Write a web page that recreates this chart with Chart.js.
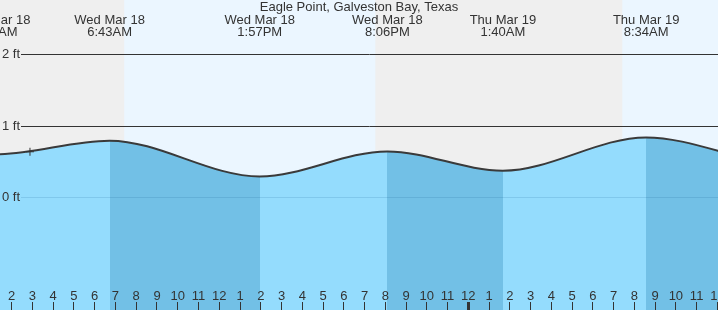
<!DOCTYPE html>
<html><head><meta charset="utf-8">
<script src="https://cdn.jsdelivr.net/npm/chart.js@4.4.1/dist/chart.umd.min.js"></script>
<style>html,body{margin:0;padding:0;background:#fff;overflow:hidden}#wrap{width:718px;height:310px;position:relative}canvas{display:block}</style>
</head><body><div id="wrap"><canvas id="c" width="718" height="310"></canvas></div>
<script>
const chartTitle = 'Eagle Point, Galveston Bay, Texas';
// tide extremes, hours since Wed Mar 18 00:00, heights in ft
const tideHours   = [-5.0, 1.2, 6.717, 13.95, 20.1, 25.667, 32.567, 39.5, 45.5];
const tideHeights = [0.70, 0.60, 0.79, 0.29, 0.64, 0.37, 0.835, 0.46, 0.72];
const tideDayLabels  = ['Tue Mar 17','Wed Mar 18','Wed Mar 18','Wed Mar 18','Wed Mar 18','Thu Mar 19','Thu Mar 19','Thu Mar 19','Thu Mar 19'];
const tideTimeLabels = ['7:00PM','1:12AM','6:43AM','1:57PM','8:06PM','1:40AM','8:34AM','3:30PM','9:30PM'];
// daylight periods (hours since Wed Mar 18 00:00)
const dayStartHours = [7.42, 31.42];
const dayEndHours   = [19.52, 43.53];
// current time marker
const nowHour = 2.88;
const nowHeight = 0.635;
// axis ticks
const hourTickValues = [1,2,3,4,5,6,7,8,9,10,11,12,13,14,15,16,17,18,19,20,21,22,23,24,25,26,27,28,29,30,31,32,33,34,35,36];
const hourTickLabels = ['1','2','3','4','5','6','7','8','9','10','11','12','1','2','3','4','5','6','7','8','9','10','11','12','1','2','3','4','5','6','7','8','9','10','11','12'];
const heightTickValues = [0, 1, 2];
const heightTickLabels = ['0 ft', '1 ft', '2 ft'];
const xRange = [1.436, 36.03];
const yRange = [-1.572, 2.752];

const FONT = '13px "Liberation Sans", Arial, sans-serif';
const TEXT = '#333333';
const NIGHT = '#efefef';
const DAY = '#ebf6ff';
const WATER_LIGHT = '#94dcfd';
const WATER_DARK = '#72c0e6';

function waterFill(ctx) {
  const chart = ctx.chart;
  const area = chart.chartArea;
  const xs = chart.scales.x;
  if (!area || !xs) return WATER_LIGHT;
  const w = area.right - area.left;
  const g = chart.ctx.createLinearGradient(area.left, 0, area.right, 0);
  const f = h => Math.min(1, Math.max(0, (xs.getPixelForValue(h) - area.left) / w));
  for (let i = 0; i < tideHours.length - 1; i++) {
    const c = tideHeights[i + 1] < tideHeights[i] ? WATER_DARK : WATER_LIGHT;
    g.addColorStop(f(tideHours[i]), c);
    g.addColorStop(f(tideHours[i + 1]), c);
  }
  return g;
}

const decor = {
  id: 'decor',
  beforeDraw(chart) {
    const {ctx, chartArea: a, scales: {x}} = chart;
    ctx.save();
    ctx.fillStyle = NIGHT;
    ctx.fillRect(a.left, a.top, a.right - a.left, a.bottom - a.top);
    ctx.fillStyle = DAY;
    for (let i = 0; i < dayStartHours.length; i++) {
      const x0 = Math.max(a.left, x.getPixelForValue(dayStartHours[i]));
      const x1 = Math.min(a.right, x.getPixelForValue(dayEndHours[i]));
      if (x1 > x0) ctx.fillRect(x0, a.top, x1 - x0, a.bottom - a.top);
    }
    ctx.restore();
  },
  afterDatasetsDraw(chart) {
    const {ctx, chartArea: a, scales: {x, y}} = chart;
    ctx.save();
    heightTickValues.forEach((v, i) => {
      const py = Math.round(y.getPixelForValue(v)) + 0.5;
      ctx.beginPath();
      ctx.moveTo(21, py);
      ctx.lineTo(a.right, py);
      ctx.lineWidth = 1;
      ctx.strokeStyle = v === 0 ? 'rgba(0,70,120,0.13)' : '#333333';
      ctx.stroke();
      ctx.font = FONT;
      ctx.fillStyle = TEXT;
      ctx.textAlign = 'right';
      ctx.textBaseline = 'alphabetic';
      ctx.fillText(heightTickLabels[i], 20, py + 3.5);
    });
    ctx.font = FONT;
    ctx.fillStyle = TEXT;
    ctx.textAlign = 'center';
    ctx.textBaseline = 'alphabetic';
    hourTickValues.forEach((h, i) => {
      const px = x.getPixelForValue(h);
      ctx.fillText(hourTickLabels[i], px, 300);
      if (h % 24 === 0) {
        ctx.fillRect(Math.floor(px) - 1, 302, 3, 8);
      } else {
        ctx.fillRect(Math.floor(px), 302, 1, 8);
      }
    });
    tideHours.forEach((h, i) => {
      const px = x.getPixelForValue(h);
      ctx.fillText(tideDayLabels[i], px, 24);
      ctx.fillText(tideTimeLabels[i], px, 36);
    });
    ctx.fillText(chartTitle, (a.left + a.right) / 2, 11);
    ctx.restore();
  }
};

new Chart(document.getElementById('c'), {
  type: 'line',
  data: {
    datasets: [
      {
        data: [{x: nowHour, y: nowHeight}],
        showLine: false,
        fill: false,
        pointStyle: 'cross',
        pointRadius: 4,
        pointBorderColor: '#333333',
        pointBorderWidth: 1,
        order: 0
      },
      {
        data: tideHours.map((h, i) => ({x: h, y: tideHeights[i]})),
        borderColor: '#3a3a3a',
        borderWidth: 2,
        pointRadius: 0,
        cubicInterpolationMode: 'monotone',
        fill: 'start',
        backgroundColor: waterFill,
        order: 1
      }
    ]
  },
  options: {
    responsive: false,
    animation: false,
    events: [],
    devicePixelRatio: 1,
    layout: {padding: 0, autoPadding: false},
    elements: {line: {capBezierPoints: false}},
    plugins: {legend: {display: false}, tooltip: {enabled: false}, title: {display: false}},
    scales: {
      x: {type: 'linear', min: xRange[0], max: xRange[1], display: false},
      y: {type: 'linear', min: yRange[0], max: yRange[1], display: false}
    }
  },
  plugins: [decor]
});
</script>
</body></html>
